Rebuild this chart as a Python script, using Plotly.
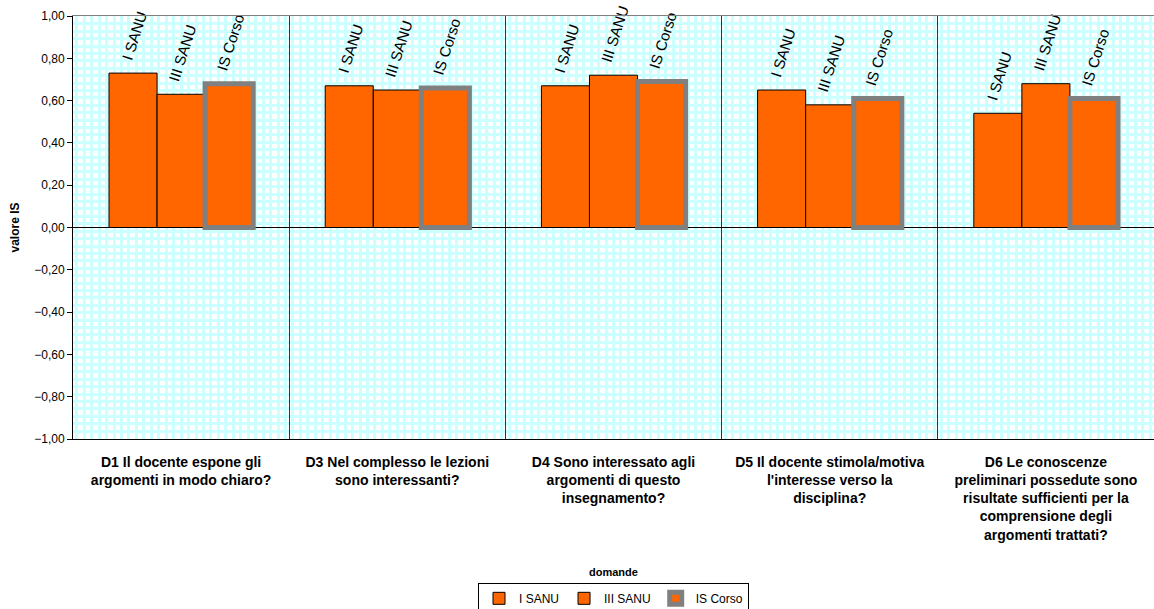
import plotly.graph_objects as go

categories = [
    "D1 Il docente espone gli<br>argomenti in modo chiaro?",
    "D3 Nel complesso le lezioni<br>sono interessanti?",
    "D4 Sono interessato agli<br>argomenti di questo<br>insegnamento?",
    "D5 Il docente stimola/motiva<br>l'interesse verso la<br>disciplina?",
    "D6 Le conoscenze<br>preliminari possedute sono<br>risultate sufficienti per la<br>comprensione degli<br>argomenti trattati?",
]
series_names = ["I SANU", "III SANU", "IS Corso"]
i_sanu = [0.73, 0.67, 0.67, 0.65, 0.54]
iii_sanu = [0.63, 0.65, 0.72, 0.58, 0.68]
is_corso = [0.68, 0.66, 0.69, 0.61, 0.61]
y_ticks = [-1.0, -0.8, -0.6, -0.4, -0.2, 0.0, 0.2, 0.4, 0.6, 0.8, 1.0]

FONT = "Liberation Sans, Arial, sans-serif"
ORANGE = "#FF6600"
PATTERN = "#CCFFFF"
NBSP = "\u00a0"

fig = go.Figure()

# invisible helper trace that defines the main (pattern) axes
fig.add_trace(go.Scatter(x=[0, 5], y=[-1, 1], xaxis="x", yaxis="y",
                         mode="markers", marker=dict(opacity=0),
                         showlegend=False, hoverinfo="skip"))

styles = [
    dict(color=ORANGE, line=dict(color="#000000", width=1)),
    dict(color=ORANGE, line=dict(color="#000000", width=1)),
    dict(color=ORANGE, line=dict(color="#808080", width=5)),
]
for name, vals, mk in zip(series_names, [i_sanu, iii_sanu, is_corso], styles):
    fig.add_trace(go.Bar(
        x=categories, y=vals, name=name, marker=mk, xaxis="x2", yaxis="y",
        text=[NBSP * 2 + name] * len(vals), textposition="outside", textangle=-72,
        textfont=dict(family=FONT, size=15, color="#000000"),
        constraintext="none", cliponaxis=False,
    ))

fig.update_layout(
    width=1154, height=609,
    margin=dict(l=73, r=0, t=16, b=170, autoexpand=False),
    paper_bgcolor="white", plot_bgcolor="white",
    separators=",.",
    font=dict(family=FONT, size=11, color="#000000"),
    barmode="group", bargap=0.333, bargroupgap=0,
    showlegend=True,
    legend=dict(orientation="h", x=0.5, xanchor="center", y=-0.34, yanchor="top",
                bordercolor="#000000", borderwidth=1, itemwidth=30,
                font=dict(family=FONT, size=12, color="#000000"),
                tracegroupgap=0),
    xaxis=dict(
        range=[0, 5], tick0=1 / 58, dtick=1 / 29, side="top",
        showgrid=True, gridcolor=PATTERN, gridwidth=2.5,
        showticklabels=False, ticks="", zeroline=False, automargin=False,
        showline=True, linecolor="#808080", linewidth=1,
    ),
    yaxis=dict(
        range=[-1, 1], tickvals=y_ticks, tickformat=".2f",
        ticks="outside", ticklen=5, tickcolor="#000000",
        showline=True, linecolor="#000000", linewidth=1,
        showgrid=False, zeroline=True, zerolinecolor="#000000", zerolinewidth=1,
        minor=dict(tick0=0.0175, dtick=0.035, showgrid=True,
                   gridcolor=PATTERN, gridwidth=2.5, ticks=""),
        tickfont=dict(family=FONT, size=12, color="#000000"),
        automargin=False,
        title=dict(text="<b>valore IS</b>", font=dict(family=FONT, size=12, color="#000000"), standoff=12),
    ),
    xaxis2=dict(
        overlaying="x", anchor="y", side="bottom",
        type="category", tickson="boundaries", ticks="",
        showgrid=True, gridcolor="#333333", gridwidth=1,
        showline=True, linecolor="#000000", linewidth=1,
        tickfont=dict(family=FONT, size=14, color="#000000", weight="bold"),
        ticklabelstandoff=10, automargin=False,
        range=[-0.5, 4.5],
    ),
    annotations=[dict(
        text="<b>domande</b>", xref="paper", yref="paper", x=0.5, y=-0.314,
        xanchor="center", yanchor="middle", showarrow=False,
        font=dict(family=FONT, size=11, color="#000000"),
    )],
)

fig.write_html("out.html",
               config={"displayModeBar": False},
               post_script="document.body.style.margin='0';document.body.style.overflow='hidden';")
